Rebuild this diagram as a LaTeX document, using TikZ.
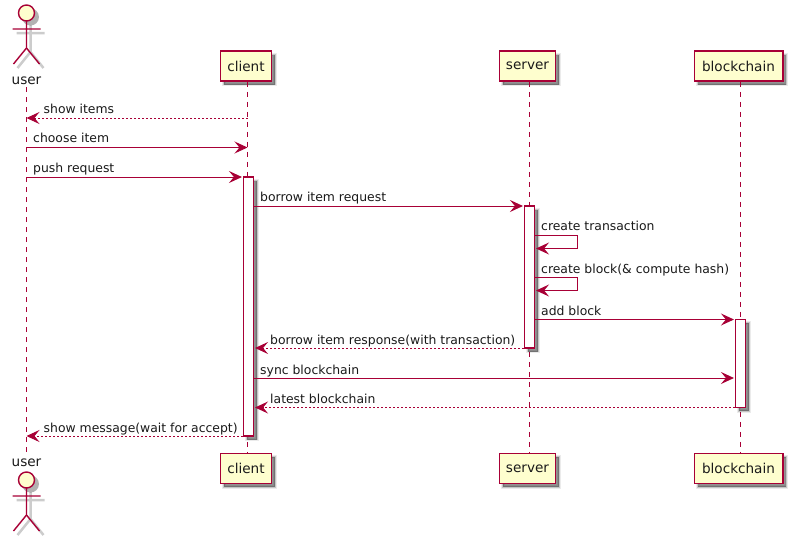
\documentclass[tikz,border=0pt]{standalone}
\usepackage{fontspec}
\setmainfont{DejaVu Sans}
\usetikzlibrary{arrows.meta,shadows}
\definecolor{pu}{HTML}{A80036}
\definecolor{puf}{HTML}{FEFECE}
\definecolor{txt}{HTML}{1A1A1A}
\tikzset{
 softshadow/.style={
  general shadow={fill=black,draw=black,line width=3.5pt,fill opacity=.14,draw opacity=.08,shadow xshift=3.5pt,shadow yshift=-3.5pt},
  general shadow={fill=black,draw=black,line width=1.2pt,fill opacity=.32,draw opacity=.16,shadow xshift=3.5pt,shadow yshift=-3.5pt}},
 part/.style={draw=pu,fill=puf,line width=1.5pt,softshadow,inner sep=0pt,text=txt,minimum height=30pt,font=\fontsize{13.6}{14}\selectfont},
 act/.style={draw=pu,fill=white,line width=1.1pt,softshadow,inner sep=0pt,minimum width=10pt},
 life/.style={draw=pu,line width=1pt,dash pattern=on 5pt off 5pt},
 tip/.style={-{Stealth[length=13pt,width=12pt,inset=5pt]}},
 msg/.style={draw=pu,line width=1pt,tip},
 ret/.style={msg,dash pattern=on 2pt off 2pt},
 lab/.style={anchor=base west,inner sep=0pt,text=txt,font=\fontsize{12.4}{14}\selectfont},
 actorname/.style={inner sep=0pt,text=txt,anchor=base,font=\fontsize{13.6}{14}\selectfont},
 stick/.style={draw=pu,line width=1.4pt},
 stickshadow/.style={draw=black,line width=2.5pt,opacity=.2},
}
\newcommand{\stickman}[1]{%
 \begin{scope}[shift={#1}]
  \begin{scope}[shift={(4,4)}]
    \fill[black,opacity=.3] (0,0) circle (8.5);
    \draw[stickshadow] (0,8) -- (0,35) (-14,16) -- (14,16) (-13,51) -- (0,35) -- (13,51);
  \end{scope}
  \draw[stick,fill=puf] (0,0) circle (8);
  \draw[stick] (0,8) -- (0,35) (-14,16) -- (14,16) (-13,51) -- (0,35) -- (13,51);
 \end{scope}}
\begin{document}
\begin{tikzpicture}[x=1pt,y=-1pt]
\useasboundingbox (0,0) rectangle (792,541);
\fill[white] (0,0) rectangle (792,541);
% row coordinates
\foreach \n/\y in {r1/118,r2/147.5,r3/177,r4/206,r5a/235.5,r5b/248.5,r6a/277.5,r6b/290.5,r7/319.5,r8/348,r9/378,r10/407.5,r11/436}{\coordinate (\n) at (0,\y);}
% lifeline x positions
\coordinate (userL) at (26.5,0);
\coordinate (clientL) at (247.5,0);
\coordinate (serverL) at (529.5,0);
\coordinate (chainL) at (740.5,0);
% participant heads
\node[actorname] (userT) at (26.5,84) {user};
\node[actorname] (userB) at (26.5,466.5) {user};
\node[part,minimum width=51pt] (clientT) at (246,66) {client};
\node[part,minimum width=56pt] (serverT) at (527.5,66) {server};
\node[part,minimum width=88.5pt] (chainT) at (738.5,66) {blockchain};
\node[part,minimum width=51pt] (clientB) at (246,468.5) {client};
\node[part,minimum width=56pt] (serverB) at (527.5,468.5) {server};
\node[part,minimum width=88.5pt] (chainB) at (738.5,468.5) {blockchain};
% lifelines
\draw[life] (userL |- userT.south) ++(0,3) -- ([yshift=4pt]userL |- userB.north);
\draw[life] (clientL |- clientT.south) -- (clientL |- clientB.north);
\draw[life] (serverL |- serverT.south) -- (serverL |- serverB.north);
\draw[life] (chainL |- chainT.south) -- (chainL |- chainB.north);
% actors
\stickman{(26.5,13)}
\stickman{(26.5,480)}
% activations
\node[act,minimum height=259pt] (actC) at (248.5,306.5) {};
\node[act,minimum height=142pt] (actS) at (529.5,277) {};
\node[act,minimum height=88pt] (actB) at (740.5,363.5) {};
% messages
\draw[ret] (clientL |- r1) -- (userL |- r1);
\node[lab] (m1) at (43.5,113) {show items};
\draw[msg] (userL |- r2) -- (clientL |- r2);
\node[lab] (m2) at (33,142) {choose item};
\draw[msg] (userL |- r3) -- ([xshift=-1pt]actC.west |- r3);
\node[lab] (m3) at (33,172) {push request};
\draw[msg] (actC.east |- r4) -- ([xshift=-1pt]actS.west |- r4);
\node[lab] (m4) at (260,201) {borrow item request};
\draw[msg] (actS.east |- r5a) -- ++(42.5,0) |- ([xshift=1pt]actS.east |- r5b);
\node[lab] (m5) at (541,230) {create transaction};
\draw[msg] (actS.east |- r6a) -- ++(42.5,0) |- ([xshift=1pt]actS.east |- r6b);
\node[lab] (m6) at (541,273) {create block(\& compute hash)};
\draw[msg] (actS.east |- r7) -- ([xshift=-1pt]actB.west |- r7);
\node[lab] (m7) at (541,315) {add block};
\draw[ret] (actS.west |- r8) -- ([xshift=1pt]actC.east |- r8);
\node[lab] (m8) at (270,344) {borrow item response(with transaction)};
\draw[msg] (actC.east |- r9) -- ([xshift=-1pt]actB.west |- r9);
\node[lab] (m9) at (260,374) {sync blockchain};
\draw[ret] (actB.west |- r10) -- ([xshift=1pt]actC.east |- r10);
\node[lab] (m10) at (270,403) {latest blockchain};
\draw[ret] (actC.west |- r11) -- (userL |- r11);
\node[lab] (m11) at (43.5,432) {show message(wait for accept)};
\end{tikzpicture}
\end{document}
